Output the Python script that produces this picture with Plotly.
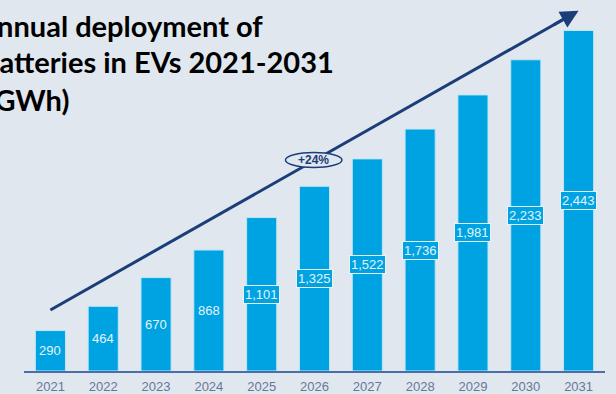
import plotly.graph_objects as go

# Annual battery deployment in EVs (GWh)
years = ["2021", "2022", "2023", "2024", "2025", "2026",
         "2027", "2028", "2029", "2030", "2031"]
gwh = [290, 464, 670, 868, 1101, 1325, 1522, 1736, 1981, 2233, 2443]
value_labels = ["290", "464", "670", "868", "1,101", "1,325",
                "1,522", "1,736", "1,981", "2,233", "2,443"]
growth_label = "+24%"
title_lines = ["Annual deployment of", "batteries in EVs 2021-2031", "(GWh)"]

BG = "#e1e7ef"
BAR = "#00a3e1"
NAVY = "#1b3d7a"
AXIS = "#4a6ea8"
TICK = "#66779a"
PLOT_H = 377  # plot area height in px (top margin 0)

# trend arrow end points (category index, GWh)
arrow_x0, arrow_y0 = 0, 438
arrow_x1, arrow_y1 = 10, 2585

fig = go.Figure()
fig.add_trace(go.Bar(
    x=years, y=gwh,
    marker=dict(color=BAR, line=dict(color="#bfe6f7", width=1)),
    width=0.57,
    hoverinfo="x+y",
))

annotations = []
# value boxes centred in each bar; wide numbers get an outlined box
for i, (v, lab) in enumerate(zip(gwh, value_labels)):
    wide = v >= 1000
    annotations.append(dict(
        x=i, y=v / 2, xref="x", yref="y", text=lab, showarrow=False,
        font=dict(family="Liberation Sans, Arial, sans-serif", size=13,
                  color="#e2f3fc"),
        bgcolor=BAR,
        bordercolor="#e6f4fb" if wide else BAR,
        borderwidth=1, borderpad=1,
    ))

# arrowhead at the end of the trend line
annotations.append(dict(
    x=arrow_x1, y=arrow_y1, xref="x", yref="y",
    ax=arrow_x1 - (arrow_x1 - arrow_x0) * 0.05,
    ay=arrow_y1 - (arrow_y1 - arrow_y0) * 0.05,
    axref="x", ayref="y",
    showarrow=True, arrowhead=2, arrowsize=1.2, arrowwidth=3,
    arrowcolor=NAVY, standoff=0, startstandoff=0, text="",
))
annotations.append(dict(
    x=4.985, y=1515, xref="x", yref="y", text="<b>" + growth_label + "</b>",
    showarrow=False,
    font=dict(family="Liberation Sans, Arial, sans-serif", size=12, color=NAVY),
))

# headline, one annotation per line, running off the left edge
for line, top_px, shift in zip(title_lines, [6, 43, 81], [-50, -43, -39]):
    annotations.append(dict(
        x=0, y=(PLOT_H - top_px) / PLOT_H, xref="paper", yref="paper",
        xanchor="left", yanchor="top", xshift=shift,
        text="<b>" + line + "</b>", showarrow=False,
        font=dict(family="Lato, sans-serif", size=29, color="#000000"),
    ))

shapes = [
    # trend line body
    dict(type="line", xref="x", yref="y",
         x0=arrow_x0, y0=arrow_y0,
         x1=arrow_x1 - (arrow_x1 - arrow_x0) * 0.03,
         y1=arrow_y1 - (arrow_y1 - arrow_y0) * 0.03,
         line=dict(color=NAVY, width=3), layer="above"),
    # growth-rate badge, masking the line behind it
    dict(type="circle", xref="x", yref="y",
         x0=4.45, x1=5.52, y0=1460, y1=1568,
         fillcolor=BG, line=dict(color=NAVY, width=1.5), layer="above"),
]

fig.update_layout(
    width=616, height=394,
    margin=dict(l=24, r=11, t=0, b=17),
    paper_bgcolor=BG, plot_bgcolor=BG,
    showlegend=False,
    annotations=annotations,
    shapes=shapes,
    xaxis=dict(
        type="category", range=[-0.5, 10.5],
        showgrid=False, showline=True, linecolor=AXIS, linewidth=2,
        ticks="", tickfont=dict(family="Liberation Sans, Arial, sans-serif",
                                size=13, color=TICK),
        ticklabelstandoff=2,
    ),
    yaxis=dict(
        range=[0, 2662], visible=False, showgrid=False, zeroline=False,
    ),
)

fig.write_html("out.html")
